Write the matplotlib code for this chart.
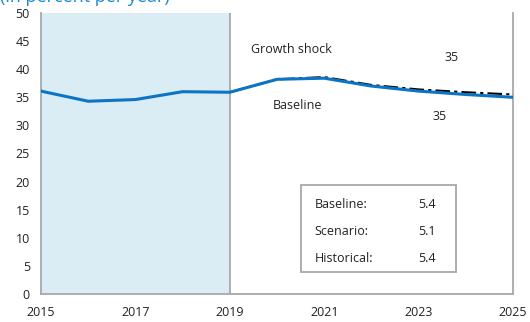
import matplotlib.pyplot as plt
from matplotlib.patches import Rectangle

plt.rcParams['font.family'] = ['Open Sans', 'DejaVu Sans']

years = [2015, 2016, 2017, 2018, 2019, 2020, 2021, 2022, 2023, 2024, 2025]
baseline = [36.1, 34.3, 34.6, 36.0, 35.9, 38.2, 38.4, 37.0, 36.1, 35.5, 35.0]
shock_years = [2019, 2020, 2021, 2022, 2023, 2024, 2025]
shock = [35.9, 38.2, 38.6, 37.2, 36.4, 35.9, 35.5]

table_labels = ['Baseline:', 'Scenario:', 'Historical:']
table_values = ['5.4', '5.1', '5.4']

blue = '#0b74c4'
grey = '#a6a8ab'
ink = '#222222'
fs = 9

fig = plt.figure(figsize=(5.3, 3.22), dpi=100)
ax = fig.add_axes([0.0774, 0.087, 0.8906, 0.8726])

# historical period shading
ax.axvspan(2015, 2019, color='#daedf4', zorder=0, lw=0)
ax.axvline(2019, color=grey, lw=1.3, zorder=1)

ax.plot(shock_years, shock, color='black', lw=1.5, dashes=(7, 2, 1.5, 2), zorder=2)
ax.plot(years, baseline, color=blue, lw=2.2, zorder=3)

ax.set_xlim(2015, 2025)
ax.set_ylim(0, 50)
ax.set_xticks(range(2015, 2026, 2))
ax.set_yticks(range(0, 51, 5))
ax.tick_params(length=0, labelsize=fs, colors=ink)
ax.tick_params(axis='x', pad=9)
ax.tick_params(axis='y', pad=8)
for s in ['left', 'bottom', 'right']:
    ax.spines[s].set_color(grey)
    ax.spines[s].set_linewidth(1.3)
ax.spines['top'].set_visible(False)

ax.text(2019.45, 43.5, 'Growth shock', fontsize=fs, color=ink, va='center')
ax.text(2023.55, 42.0, '35', fontsize=fs, color=ink, va='center')
ax.text(2019.9, 33.5, 'Baseline', fontsize=fs, color=ink, va='center')
ax.text(2023.3, 31.5, '35', fontsize=fs, color=ink, va='center')

# summary box
ax.add_patch(Rectangle((2020.5, 3.9), 3.3, 15.5, fill=False, ec=grey, lw=1.3, zorder=4))
for i, (lab, val) in enumerate(zip(table_labels, table_values)):
    y = 15.9 - i * 4.8
    ax.text(2020.8, y, lab, fontsize=fs, color=ink, va='center')
    ax.text(2023.0, y, val, fontsize=fs, color=ink, va='center')

fig.text(0.0, 1 - 1.5 / 322, '(in percent per year)', fontsize=13, color='#1a8ad4',
         va='baseline', ha='left')

fig.savefig('out.png', dpi=100)
